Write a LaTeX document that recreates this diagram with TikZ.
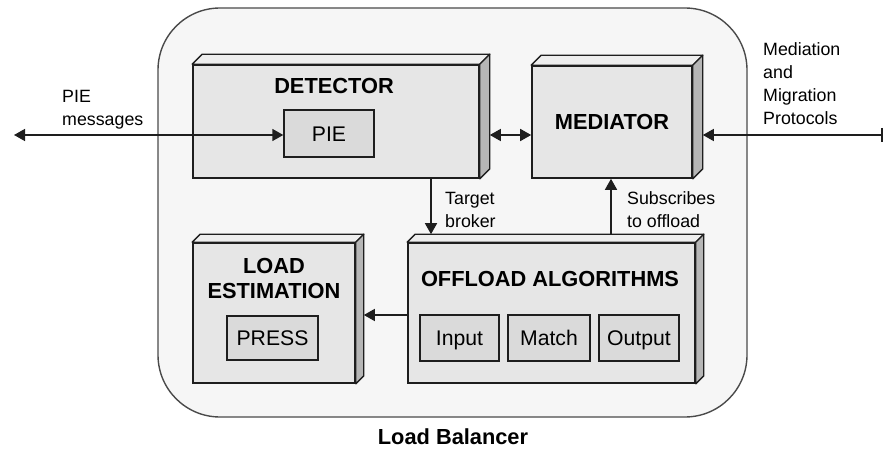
\documentclass[tikz,border=0pt]{standalone}
\usepackage{fontspec}
\setmainfont{Liberation Sans}
\usetikzlibrary{arrows.meta,calc}

\definecolor{edgec}{HTML}{1E1E1E}
\definecolor{framec}{HTML}{4A4A4A}
\definecolor{panelc}{HTML}{F6F6F6}
\definecolor{frontc}{HTML}{E6E6E6}
\definecolor{topc}{HTML}{EEEEEE}
\definecolor{sidec}{HTML}{B6B6B6}
\definecolor{innerc}{HTML}{DADADA}

\tikzset{
  frontbox/.style={draw=edgec, fill=frontc, line width=1.6pt, inner sep=0pt},
  innerbox/.style={draw=edgec, fill=innerc, line width=1.4pt, inner sep=0pt,
                   text height=15.2pt, text depth=0pt,
                   font=\fontsize{21.2}{24}\selectfont},
  title/.style={font=\fontsize{21.8}{25}\selectfont\bfseries, align=center},
  lbl/.style={font=\fontsize{17.8}{23}\selectfont, align=left, anchor=west, inner sep=0pt},
  face/.style={draw=edgec, line width=1.3pt, line join=round},
  conn/.style={draw=edgec, line width=1.5pt,
               arrows={-Triangle[length=11pt,width=12pt]}},
  conn2/.style={draw=edgec, line width=1.5pt,
               arrows={Triangle[length=11pt,width=12pt]-Triangle[length=11pt,width=12pt]}}
}

% top and right faces of a slab whose front face is node #1, depth #2
\newcommand\slabfaces[2]{%
  \filldraw[face, fill=topc] (#1.north west) -- ++(#2,-#2)
     -- ($(#1.north east)+(#2,-#2)$) -- (#1.north east) -- cycle;
  \filldraw[face, fill=sidec] (#1.north east) -- ++(#2,-#2)
     -- ($(#1.south east)+(#2,-#2)$) -- (#1.south east) -- cycle;}

\begin{document}
\begin{tikzpicture}[x=1pt, y=-1pt]
  \useasboundingbox (0,0) rectangle (883,449);

  % load balancer frame
  \node[draw=framec, fill=panelc, line width=1.4pt, rounded corners=62pt,
        minimum width=589pt, minimum height=409pt, inner sep=0pt] (lb) at (452.5,212.5) {};
  \node[title] (lbt) at (453,437) {Load Balancer};

  % detector
  \node[frontbox, minimum width=286pt, minimum height=113pt] (det) at (336,121.5) {};
  \slabfaces{det}{10}
  \node[title] (dett) at (334,86) {DETECTOR};
  \node[innerbox, minimum width=90pt, minimum height=47pt] (pie) at (329,133.5) {PIE};

  % mediator
  \node[frontbox, minimum width=160pt, minimum height=112pt] (med) at (612,122) {};
  \slabfaces{med}{10}
  \node[title] (medt) at (612,122) {MEDIATOR};

  % offload algorithms
  \node[frontbox, minimum width=287pt, minimum height=140pt] (off) at (551.5,313) {};
  \slabfaces{off}{8}
  \node[title] (offt) at (550,279) {OFFLOAD ALGORITHMS};
  \node[innerbox, minimum width=79pt, minimum height=46pt] (inp) at (459.5,338) {Input};
  \node[innerbox, minimum width=82pt, minimum height=46pt] (mat) at (549,338) {Match};
  \node[innerbox, minimum width=80pt, minimum height=46pt] (outp) at (639,338) {Output};

  % load estimation
  \node[frontbox, minimum width=162pt, minimum height=140pt] (est) at (274,313) {};
  \slabfaces{est}{8}
  \node[title] (estt) at (274,278) {LOAD\\ESTIMATION};
  \node[innerbox, minimum width=91pt, minimum height=44pt] (press) at (272.5,338) {PRESS};

  % external ends
  \coordinate (pieend) at (14,135);
  \coordinate (protend) at (882,135);
  \draw[edgec, line width=1.3pt] ($(protend)+(0,-7)$) -- ($(protend)+(0,7)$);

  % connectors
  \path[conn2] (pieend) -- (pie.west |- pieend);
  \path[conn2] ($(det.east |- pieend)+(10,0)$) -- (med.west |- pieend);
  \path[conn] (protend) -- ($(med.east |- protend)+(10,0)$);
  \path[conn] (431,0 |- det.south) -- ($(431,0 |- off.north)+(0,-8)$);
  \path[conn] ($(611,0 |- off.north)+(0,-8)$) -- (611,0 |- med.south);
  \path[conn] (off.west |- 0,315) -- ($(est.east |- 0,315)+(8,0)$);

  % labels
  \node[lbl] (l1) at (62,110) {PIE\\messages};
  \node[lbl] (l2) at (445,210) {Target\\broker};
  \node[lbl] (l3) at (627,210) {Subscribes\\to offload};
  \node[lbl] (l4) at (763,83.5) {Mediation\\and\\Migration\\Protocols};
\end{tikzpicture}
\end{document}
